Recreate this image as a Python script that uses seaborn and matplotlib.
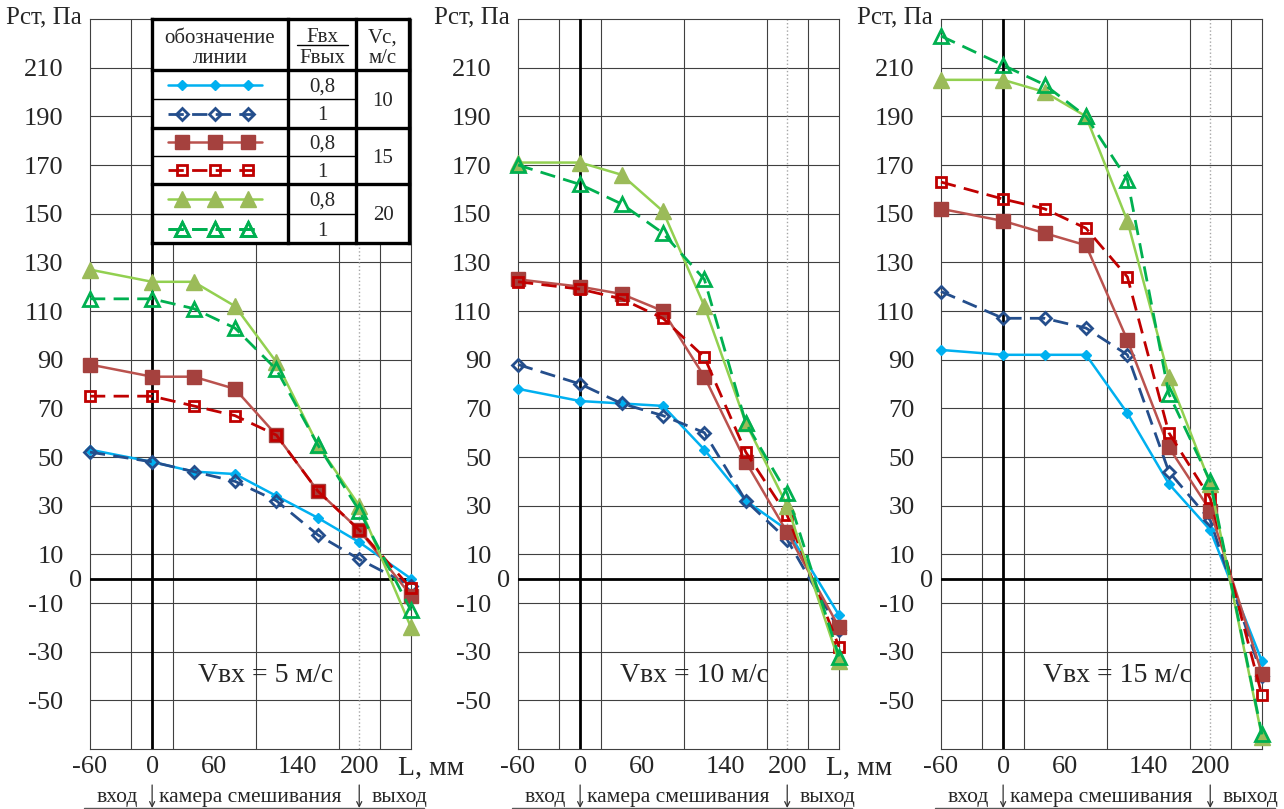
import matplotlib
matplotlib.use("Agg")
import matplotlib.pyplot as plt
from matplotlib.lines import Line2D
from matplotlib.legend_handler import HandlerLine2D
from matplotlib.ticker import FixedFormatter, FixedLocator
import numpy as np
import pandas as pd
import seaborn as sns

sns.set_style("white")
plt.rcParams["font.family"] = ["Liberation Serif", "DejaVu Serif"]
plt.rcParams["axes.unicode_minus"] = False

# ---------------- data ----------------
L_MM = [-60, 0, 40, 80, 120, 160, 200, 250]
V_INLET = [5, 10, 15]
PANEL_LABELS = ["Vвх = 5 м/с", "Vвх = 10 м/с", "Vвх = 15 м/с"]
VC_VALUES = ["10", "15", "20"]
F_RATIOS = ["0,8", "1", "0,8", "1", "0,8", "1"]

# Vвх = 5 м/с
v5_vc10_f08 = [53, 48, 44, 43, 34, 25, 15, 0]
v5_vc10_f1 = [52, 48, 44, 40, 32, 18, 8, -3]
v5_vc15_f08 = [88, 83, 83, 78, 59, 36, 20, -7]
v5_vc15_f1 = [75, 75, 71, 67, 59, 36, 20, -4]
v5_vc20_f08 = [127, 122, 122, 112, 89, 55, 30, -20]
v5_vc20_f1 = [115, 115, 111, 103, 86, 55, 28, -13]
# Vвх = 10 м/с
v10_vc10_f08 = [78, 73, 72, 71, 53, 32, 20, -15]
v10_vc10_f1 = [88, 80, 72, 67, 60, 32, 16, -21]
v10_vc15_f08 = [123, 120, 117, 110, 83, 48, 19, -20]
v10_vc15_f1 = [122, 119, 115, 107, 91, 52, 26, -28]
v10_vc20_f08 = [171, 171, 166, 151, 112, 64, 30, -34]
v10_vc20_f1 = [170, 162, 154, 142, 123, 64, 35, -32]
# Vвх = 15 м/с
v15_vc10_f08 = [94, 92, 92, 92, 68, 39, 20, -34]
v15_vc10_f1 = [118, 107, 107, 103, 92, 44, 24, -40]
v15_vc15_f08 = [152, 147, 142, 137, 98, 54, 28, -39]
v15_vc15_f1 = [163, 156, 152, 144, 124, 60, 33, -48]
v15_vc20_f08 = [205, 205, 200, 190, 147, 83, 39, -65]
v15_vc20_f1 = [223, 211, 203, 190, 164, 76, 40, -64]

X_TICKS = [-60, 0, 60, 140, 200]
X_GRID = [-20, 20, 60, 100, 140, 180, 220]
Y_TICKS = [-50, -30, -10, 0, 10, 30, 50, 70, 90, 110, 130, 150, 170, 190, 210]

PANELS = {
    5: [v5_vc10_f08, v5_vc10_f1, v5_vc15_f08, v5_vc15_f1, v5_vc20_f08, v5_vc20_f1],
    10: [v10_vc10_f08, v10_vc10_f1, v10_vc15_f08, v10_vc15_f1, v10_vc20_f08, v10_vc20_f1],
    15: [v15_vc10_f08, v15_vc10_f1, v15_vc15_f08, v15_vc15_f1, v15_vc20_f08, v15_vc20_f1],
}

rows = []
for v, series in PANELS.items():
    for k, vals in enumerate(series):
        for x, p in zip(L_MM, vals):
            rows.append(dict(v_in=v, series=k, L=x, P=p))
df = pd.DataFrame(rows)

DASH = (0, (5.5, 3))
STYLES = [
    dict(color="#00B0F0", mec="#00B0F0", mfc="#00B0F0", marker="D", ms=5.6, mew=1.0, ls="-", lw=1.8),
    dict(color="#244E8C", mec="#244E8C", mfc="none", marker="D", ms=5.8, mew=2.0, ls=DASH, lw=2.0),
    dict(color="#BA524E", mec="#A5413E", mfc="#A5413E", marker="s", ms=9.5, mew=1.0, ls="-", lw=1.8),
    dict(color="#C00000", mec="#C00000", mfc="none", marker="s", ms=7.0, mew=2.0, ls=DASH, lw=2.0),
    dict(color="#92D050", mec="#9BBB59", mfc="#9BBB59", marker="^", ms=11.0, mew=1.0, ls="-", lw=1.8),
    dict(color="#00B050", mec="#00B050", mfc="none", marker="^", ms=10.0, mew=2.0, ls=DASH, lw=2.0),
]

# ---------------- figure ----------------
W, H = 1284, 809
fig = plt.figure(figsize=(W / 100, H / 100), dpi=100)
AX_LEFTS = [90, 518, 941]
AX_W = 321
TOP, BOTTOM = 19, 749
TICK_FS = 19
GRID_C = "0.25"

axes = []
for i, v in enumerate(V_INLET):
    left = AX_LEFTS[i]
    ax = fig.add_axes([left / W, 1 - BOTTOM / H, AX_W / W, (BOTTOM - TOP) / H])
    axes.append(ax)
    ax.set_axisbelow(True)
    for k, st in enumerate(STYLES):
        sub = df[(df.v_in == v) & (df.series == k)]
        sns.lineplot(data=sub, x="L", y="P", ax=ax, estimator=None, errorbar=None,
                     sort=False, legend=False, color=st["color"], linestyle=st["ls"],
                     linewidth=st["lw"], marker=st["marker"], markersize=st["ms"],
                     markerfacecolor=st["mfc"], markeredgecolor=st["mec"],
                     markeredgewidth=st["mew"], clip_on=False, zorder=4 + k)
    ax.set_xlim(-60, 250)
    ax.set_ylim(-70, 230)
    ax.set_xlabel("")
    ax.set_ylabel("")
    ax.xaxis.set_major_locator(FixedLocator(X_TICKS))
    ax.xaxis.set_major_formatter(FixedFormatter([str(t) for t in X_TICKS]))
    ax.xaxis.set_minor_locator(FixedLocator(X_GRID))
    ax.yaxis.set_major_locator(FixedLocator(Y_TICKS))
    ax.yaxis.set_major_formatter(FixedFormatter(["" if t == 0 else str(t) for t in Y_TICKS]))
    ax.tick_params(which="both", length=0, labelsize=TICK_FS)
    ax.tick_params(axis="y", pad=19)
    ax.tick_params(axis="x", pad=5)
    ax.grid(False)
    ax.grid(True, which="minor", axis="x", color=GRID_C, lw=0.8)
    ax.grid(True, which="major", axis="y", color=GRID_C, lw=0.8)
    for s in ax.spines.values():
        s.set_color(GRID_C)
        s.set_linewidth(0.8)
    ax.axvline(200, color="0.65", lw=1.0, ls=":", zorder=2)
    ax.axhline(0, color="black", lw=2.0, zorder=3)
    ax.axvline(0, color="black", lw=2.0, zorder=3)

    # zero label
    ax.annotate("0", xy=(0, 0), xycoords=ax.get_yaxis_transform(), xytext=(-8, 0),
                textcoords="offset pixels", ha="right", va="center_baseline", fontsize=TICK_FS)
    # axis titles
    ax.annotate("Рст, Па", xy=(0, 1), xycoords="axes fraction", xytext=(-8, 2),
                textcoords="offset pixels", ha="right", va="center", fontsize=18)
    if i < 2:
        ax.annotate("L, мм", xy=(0.96, 0), xycoords="axes fraction", xytext=(0, -7),
                    textcoords="offset pixels", ha="left", va="top", fontsize=20)
    ax.text(110, -40, PANEL_LABELS[i], ha="center", va="center", fontsize=20)

    # bottom zone labels
    tr = ax.get_xaxis_transform()
    y_line = -59 / (BOTTOM - TOP)
    y_arrow_top = -36 / (BOTTOM - TOP)
    y_text = -53 / (BOTTOM - TOP)
    ax.plot([-0.02, 1.04], [y_line, y_line], transform=ax.transAxes, color="0.35",
            lw=1.0, clip_on=False)
    for xa in (0, 200):
        ax.annotate("", xy=(xa, y_line), xycoords=tr, xytext=(xa, y_arrow_top), textcoords=tr,
                    arrowprops=dict(arrowstyle="->", color="0.2", lw=0.9,
                                    shrinkA=0, shrinkB=0, mutation_scale=9))
    ax.text(-34, y_text, "вход", transform=tr, ha="center", va="baseline", fontsize=15.5)
    ax.text(95, y_text, "камера смешивания", transform=tr, ha="center", va="baseline", fontsize=15.5)
    ax.text(239, y_text, "выход", transform=tr, ha="center", va="baseline", fontsize=15.5,
            clip_on=False)

# ---------------- legend table ----------------
TX, TY, TW, TH = 152, 19, 257, 224
tab = fig.add_axes([TX / W, 1 - (TY + TH) / H, TW / W, TH / H], zorder=10)
tab.set_xlim(0, TW)
tab.set_ylim(TH, 0)
tab.set_xticks([])
tab.set_yticks([])
for s in tab.spines.values():
    s.set_visible(False)
tab.set_facecolor("white")

COL = [0, 136, 204, TW]
ROW = [0, 51, 80, 109, 137, 165, 195, TH]
THICK, THIN = 2.4, 1.0
for y in [0, 51, 109, 165, TH]:
    tab.plot([0, TW], [y, y], color="black", lw=THICK, solid_capstyle="projecting", clip_on=False)
for x in COL:
    tab.plot([x, x], [0, TH], color="black", lw=THICK, solid_capstyle="projecting", clip_on=False)
for y in [80, 137, 195]:
    tab.plot([0, 204], [y, y], color="black", lw=THIN, clip_on=False)

TFS = 15
tab.text(68, 24, "обозначение", ha="center", va="baseline", fontsize=TFS)
tab.text(68, 44, "линии", ha="center", va="baseline", fontsize=TFS)
tab.text(170, 23.5, "Fвх", ha="center", va="baseline", fontsize=TFS)
tab.plot([145, 196], [25.5, 25.5], color="black", lw=1.0)
tab.text(170, 44, "Fвых", ha="center", va="baseline", fontsize=TFS)
tab.text(231, 24, "Vc,", ha="center", va="baseline", fontsize=TFS)
tab.text(231, 44, "м/с", ha="center", va="baseline", fontsize=TFS)

for r in range(6):
    yc = (ROW[r + 1] + ROW[r + 2]) / 2
    tab.text(170, yc + 7, F_RATIOS[r], ha="center", va="baseline", fontsize=TFS)
for g in range(3):
    yc = (ROW[1 + 2 * g] + ROW[3 + 2 * g]) / 2
    tab.text(231, yc + 7, VC_VALUES[g], ha="center", va="baseline", fontsize=TFS)

LEG_FS = 10
for r, st in enumerate(STYLES):
    yc = (ROW[r + 1] + ROW[r + 2]) / 2 + 1.5
    lonly = Line2D([], [], color=st["color"], lw=st["lw"], linestyle=st["ls"])
    monly = Line2D([], [], linestyle="none", marker=st["marker"], markersize=st["ms"],
                   markerfacecolor=st["mfc"], markeredgecolor=st["mec"],
                   markeredgewidth=st["mew"])
    leg = tab.legend(handles=[(lonly, monly)], labels=[""], loc="center",
                     bbox_to_anchor=(63, yc), bbox_transform=tab.transData,
                     frameon=False, fontsize=LEG_FS, handlelength=6.77,
                     handletextpad=0, borderpad=0, borderaxespad=0,
                     handler_map={lonly: HandlerLine2D(numpoints=3, marker_pad=0),
                                  monly: HandlerLine2D(numpoints=3, marker_pad=1.04)})
    tab.add_artist(leg)

fig.savefig("out.png", dpi=100)
